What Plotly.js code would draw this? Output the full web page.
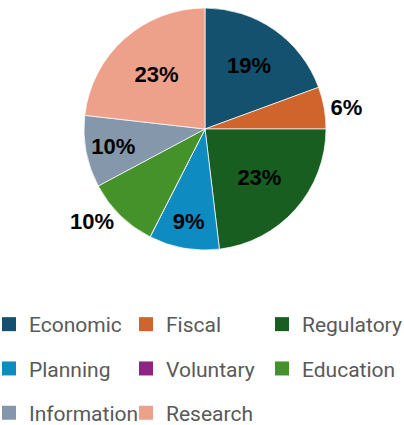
<!DOCTYPE html>
<html>
<head>
<meta charset="utf-8">
<script src="https://cdn.plot.ly/plotly-3.0.1.min.js"></script>
<style>html,body{margin:0;padding:0;background:#fff;}#chart{width:404px;height:425px;}</style>
</head>
<body>
<div id="chart"></div>
<script>
// Data
const categories = ["Economic", "Fiscal", "Regulatory", "Planning", "Voluntary", "Education", "Information", "Research"];
const shares = [19.4, 5.6, 23.1, 9.4, 0, 9.7, 9.6, 23.2];
const colors = ["#13516F", "#CF642D", "#175E20", "#0E8BC0", "#8E2382", "#449229", "#8497AB", "#EDA18A"];
const labelPositions = ["inside", "outside", "inside", "inside", "none", "outside", "inside", "inside"];
// legend columns (reading order is row by row: Economic, Fiscal, Regulatory / Planning, ...)
const legendColumns = [["Economic", "Planning", "Information"], ["Fiscal", "Voluntary", "Research"], ["Regulatory", "Education"]];

const W = 404, H = 425;
const cx = 205, cy = 129, R = 121;
const labelFont = {family: "Liberation Sans, Arial, sans-serif", size: 22, color: "#000", weight: 700};

const traces = [{
  type: "pie",
  labels: categories,
  values: shares,
  sort: false,
  direction: "clockwise",
  rotation: 0,
  showlegend: false,
  hoverinfo: "skip",
  marker: {colors: colors, line: {color: "rgba(255,255,255,0.7)", width: 1}},
  texttemplate: "%{percent:.0%}",
  textposition: labelPositions,
  insidetextorientation: "horizontal",
  textfont: labelFont,
  insidetextfont: labelFont,
  outsidetextfont: labelFont,
  domain: {x: [(cx - R) / W, (cx + R) / W], y: [1 - (cy + R) / H, 1 - (cy - R) / H]}
}];

const layout = {
  width: W, height: H,
  margin: {l: 0, r: 0, t: 0, b: 0, pad: 0, autoexpand: false},
  paper_bgcolor: "#fff", plot_bgcolor: "rgba(0,0,0,0)",
  xaxis: {visible: false}, yaxis: {visible: false},
  showlegend: true
};

const colLeft = [-11, 126, 262];
legendColumns.forEach((col, c) => {
  const key = c === 0 ? "legend" : "legend" + (c + 1);
  layout[key] = {
    orientation: "v",
    xref: "paper", yref: "paper",
    x: colLeft[c] / W, xanchor: "left",
    y: 1 - 304 / H, yanchor: "top",
    traceorder: "grouped",
    tracegroupgap: 14,
    bgcolor: "rgba(0,0,0,0)", borderwidth: 0,
    font: {family: "Roboto, sans-serif", size: 21, color: "#595959"},
    itemclick: false, itemdoubleclick: false
  };
  col.forEach(name => {
    const i = categories.indexOf(name);
    traces.push({
      type: "scatter", mode: "markers",
      x: [null], y: [null],
      name: name,
      legend: key,
      legendgroup: name,
      showlegend: true,
      hoverinfo: "skip",
      marker: {symbol: "square", size: 14, color: colors[i]}
    });
  });
});

Plotly.newPlot("chart", traces, layout, {displayModeBar: false, staticPlot: true});
</script>
</body>
</html>
